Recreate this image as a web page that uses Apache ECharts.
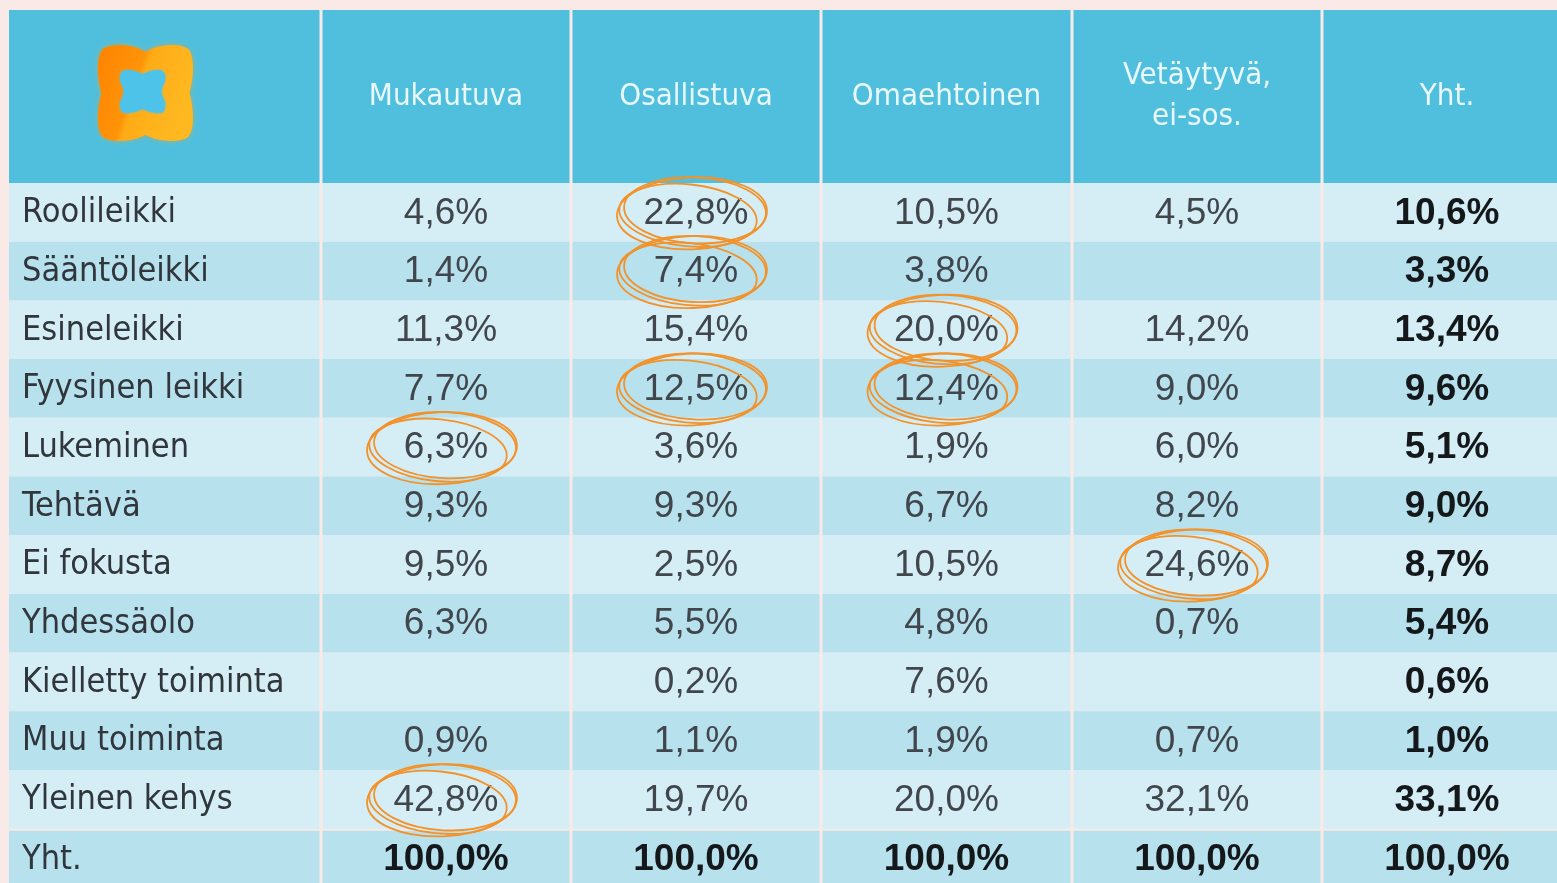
<!DOCTYPE html>
<html>
<head>
<meta charset="utf-8">
<script src="https://cdn.jsdelivr.net/npm/echarts@6/dist/echarts.min.js"></script>
<style>
  html, body { margin: 0; padding: 0; background: #f9eae7; overflow: hidden; }
  #main { width: 1600px; height: 900px; }
</style>
</head>
<body>
<div id="main"></div>
<script>
var chartDom = document.getElementById('main');
var myChart = echarts.init(chartDom);
var option;

// table content
let columns = ['Mukautuva', 'Osallistuva', 'Omaehtoinen', 'Vetäytyvä,\nei-sos.', 'Yht.'];
let rowLabels = ['Roolileikki', 'Sääntöleikki', 'Esineleikki', 'Fyysinen leikki', 'Lukeminen',
  'Tehtävä', 'Ei fokusta', 'Yhdessäolo', 'Kielletty toiminta', 'Muu toiminta', 'Yleinen kehys', 'Yht.'];
let mukautuva   = [4.6, 1.4, 11.3, 7.7, 6.3, 9.3, 9.5, 6.3, null, 0.9, 42.8, 100.0];
let osallistuva = [22.8, 7.4, 15.4, 12.5, 3.6, 9.3, 2.5, 5.5, 0.2, 1.1, 19.7, 100.0];
let omaehtoinen = [10.5, 3.8, 20.0, 12.4, 1.9, 6.7, 10.5, 4.8, 7.6, 1.9, 20.0, 100.0];
let vetaytyva   = [4.5, null, 14.2, 9.0, 6.0, 8.2, 24.6, 0.7, null, 0.7, 32.1, 100.0];
let yhteensa    = [10.6, 3.3, 13.4, 9.6, 5.1, 9.0, 8.7, 5.4, 0.6, 1.0, 33.1, 100.0];
let values = [mukautuva, osallistuva, omaehtoinen, vetaytyva, yhteensa];
// circled cells: [column (1 = Mukautuva), row (1 = Roolileikki)]
let circled = [[2, 1], [2, 2], [3, 3], [2, 4], [3, 4], [1, 5], [4, 7], [1, 11]];

// layout
let colWidths = [312, 250, 250, 251, 250, 250];
let headerH = 173;
let rowH = 58.7;
let colEdges = [0];
colWidths.forEach(function (w) { colEdges.push(colEdges[colEdges.length - 1] + w); });
let totalW = colEdges[colEdges.length - 1];
let totalH = headerH + rowLabels.length * rowH;

function rowEdge(r) {
  return r === 0 ? 0 : headerH + (r - 1) * rowH;
}

function fmt(v) {
  return v.toFixed(1).replace('.', ',') + '%';
}

let condensed = '"DejaVu Sans Condensed", "Liberation Sans Narrow", "DejaVu Sans", sans-serif';
let sans = '"Liberation Sans", Arial, sans-serif';

let logoOuter = 'M50,8 C62,0 84,-2 94,5 C101,14 99,36 95,50 C99,64 101,86 94,95 C84,102 62,100 50,93 ' +
  'C38,100 16,102 6,95 C-1,86 1,64 5,50 C1,36 -1,14 6,5 C16,-2 38,0 50,8 Z';
let logoInner = 'M50,24 C62,17 77,15 79,23 C83,34 75,42 75,50 C75,58 83,66 79,77 C77,85 62,83 50,76 ' +
  'C38,83 23,85 21,77 C17,66 25,58 25,50 C25,42 17,34 21,23 C23,15 38,17 50,24 Z';

let cells = [];
for (let r = 0; r <= rowLabels.length; r++) {
  for (let c = 0; c < colWidths.length; c++) {
    cells.push([c, r]);
  }
}

function renderCell(params, api) {
  let c = api.value(0), r = api.value(1);
  let p0 = api.coord([colEdges[c], rowEdge(r)]);
  let p1 = api.coord([colEdges[c + 1], rowEdge(r + 1)]);
  let x = p0[0] + (c > 0 ? 1.5 : 0);
  let w = p1[0] - p0[0] - (c > 0 ? 3 : 1.5);
  let y = p0[1] + (r === rowLabels.length ? 2 : 0);
  let h = p1[1] - y;
  let fill = r === 0 ? '#50bfdd' : (r % 2 === 1 ? '#d5eef6' : '#b8e1ee');
  let children = [{
    type: 'rect',
    shape: { x: x, y: y, width: w, height: h },
    style: { fill: fill }
  }];
  let cx = x + w / 2, cy = y + h / 2;
  if (r === 0 && c === 0) {
    let lx = x + 89, ly = y + 35, lw = 95, lh = 96;
    children.push({
      type: 'path',
      shape: { pathData: logoOuter, x: lx, y: ly, width: lw, height: lh, layout: 'cover' },
      style: {
        fill: { type: 'linear', x: 0, y: 0, x2: 1, y2: 0.35, colorStops: [
          { offset: 0, color: '#ff8200' }, { offset: 0.47, color: '#ff9408' },
          { offset: 0.53, color: '#ffab16' }, { offset: 1, color: '#ffb820' }] },
        shadowBlur: 5, shadowColor: 'rgba(255,160,20,0.55)'
      }
    }, {
      type: 'path',
      shape: { pathData: logoInner, x: lx + lw * 0.23, y: ly + lh * 0.26, width: lw * 0.48, height: lh * 0.45, layout: 'cover' },
      style: { fill: '#4ec3ea', shadowBlur: 3, shadowColor: 'rgba(78,196,236,0.6)' }
    });
  } else if (r === 0) {
    children.push({
      type: 'text',
      style: {
        text: columns[c - 1], x: cx, y: cy, align: 'center', verticalAlign: 'middle',
        font: '31px ' + condensed, fill: '#e9f8fc', lineHeight: 41
      }
    });
  } else if (c === 0) {
    children.push({
      type: 'text',
      style: {
        text: rowLabels[r - 1], x: x + 13, y: cy + 1, align: 'left', verticalAlign: 'middle',
        font: '34px ' + condensed, fill: '#30363c'
      }
    });
  } else {
    let v = values[c - 1][r - 1];
    if (v != null) {
      let bold = c === colWidths.length - 1 || r === rowLabels.length;
      children.push({
        type: 'text',
        style: {
          text: fmt(v), x: cx, y: cy + 1, align: 'center', verticalAlign: 'middle',
          font: (bold ? 'bold ' : '') + '37px ' + sans, fill: bold ? '#15181b' : '#40464c'
        }
      });
    }
  }
  return { type: 'group', children: children };
}

let loops = [
  { rx: 71, ry: 33, dx: 2, dy: -2, rot: -0.05 },
  { rx: 75, ry: 36, dx: -1, dy: 1, rot: 0.04 },
  { rx: 69, ry: 31, dx: -5, dy: 3, rot: -0.1 }
];

function renderCircle(params, api) {
  let c = api.value(0), r = api.value(1);
  let p0 = api.coord([colEdges[c], rowEdge(r)]);
  let p1 = api.coord([colEdges[c + 1], rowEdge(r + 1)]);
  let cx = (p0[0] + p1[0]) / 2 - 3, cy = (p0[1] + p1[1]) / 2;
  return {
    type: 'group',
    children: loops.map(function (l) {
      return {
        type: 'ellipse',
        x: cx + l.dx, y: cy + l.dy, rotation: l.rot,
        shape: { cx: 0, cy: 0, rx: l.rx, ry: l.ry },
        style: { fill: 'none', stroke: '#f2922a', lineWidth: 1.8 }
      };
    })
  };
}

option = {
  animation: false,
  grid: { left: 9, top: 10, width: totalW, height: totalH },
  xAxis: { type: 'value', min: 0, max: totalW, show: false },
  yAxis: { type: 'value', min: 0, max: totalH, inverse: true, show: false },
  series: [
    { type: 'custom', renderItem: renderCell, data: cells, silent: true },
    { type: 'custom', renderItem: renderCircle, data: circled, silent: true, z: 5 }
  ]
};

option && myChart.setOption(option);
</script>
</body>
</html>
